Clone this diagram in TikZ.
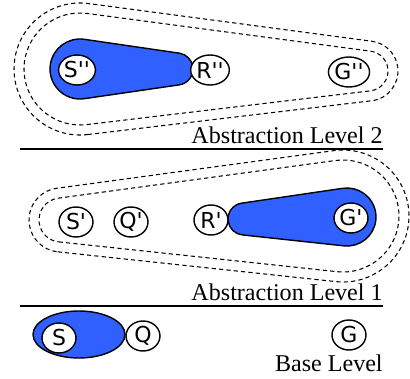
\documentclass[tikz,border=0pt]{standalone}
\usepackage{fontspec}
\setmainfont{Liberation Serif}
\newfontfamily\statefont[Ligatures=TeXOff]{DejaVu Sans}
\usetikzlibrary{calc,shapes.geometric}
\definecolor{regionblue}{RGB}{48,96,255}
\tikzset{
  state/.style={ellipse, draw, fill=white, line width=0.8pt, inner sep=0pt,
    minimum width=0.68cm, minimum height=0.6cm, font=\statefont\fontsize{12.5}{14}\selectfont},
  region/.style={draw, fill=regionblue, line width=0.8pt},
  bound/.style={draw, line width=0.6pt, dash pattern=on 2.4pt off 1.8pt},
  levellabel/.style={anchor=base east, inner sep=0pt, font=\fontsize{13.7}{16}\selectfont}
}
% hull of two circles: [style](x1,y1,r1)(x2,y2,r2)
\def\hull[#1](#2,#3,#4)(#5,#6,#7){%
  \pgfmathsetmacro\hulld{veclen(#5-#2,#6-#3)}%
  \pgfmathsetmacro\hullt{atan2(#6-#3,#5-#2)}%
  \pgfmathsetmacro\hulla{acos((#4-#7)/\hulld)}%
  \draw[#1] ($(#2,#3)+(\hullt+\hulla:#4)$) -- ($(#5,#6)+(\hullt+\hulla:#7)$)
    arc[start angle=\hullt+\hulla, end angle=\hullt-\hulla, radius=#7]
    -- ($(#2,#3)+(\hullt-\hulla:#4)$)
    arc[start angle=\hullt-\hulla, end angle=\hullt+\hulla-360, radius=#4] -- cycle;}

\begin{document}
\begin{tikzpicture}[x=0.02cm, y=-0.02cm]
			\useasboundingbox (0,0) rectangle (410,379);
			
			%%%%% level 2 %%%%%
			\hull[bound](80,69,66)(368,71,30)
			\hull[bound](80,69,56)(368,71,20)
			\hull[region](80,69,30)(177,69,16)
			
			\node[state] (s2) at (77,70) {S''};
			\node[state] (r2) at (210,70) {R''};
			\node[state] (g2) at (349,72) {G''};
			
			\node[levellabel] (lab2) at (383,143) {Abstraction Level 2};
			\draw[line width=0.6pt] (20,149) -- (383,149);
			
			%%%%% level 1 %%%%%
			\hull[bound](61,220,32)(343,216,66)
			\hull[bound](61,220,22)(343,216,56)
			\hull[region](244,219,16)(347,217,29)
			
			\node[state] (s1) at (76,222) {S'};
			\node[state] (q1) at (131,222) {Q'};
			\node[state] (r1) at (211,220) {R'};
			\node[state] (g1) at (351,218) {G'};
			
			\node[levellabel] (lab1) at (383,300) {Abstraction Level 1};
			\draw[line width=0.6pt] (20,306) -- (383,306);
			
			%%%%% base level %%%%%
			\draw[region] (79,334.5) ellipse [x radius=46, y radius=23.5];
			
			\node[state] (s0) at (59,338) {S};
			\node[state] (q0) at (143,336) {Q};
			\node[state] (g0) at (349,335) {G};
			
			\node[levellabel] (lab0) at (383,371) {Base Level};
\end{tikzpicture}
\end{document}
